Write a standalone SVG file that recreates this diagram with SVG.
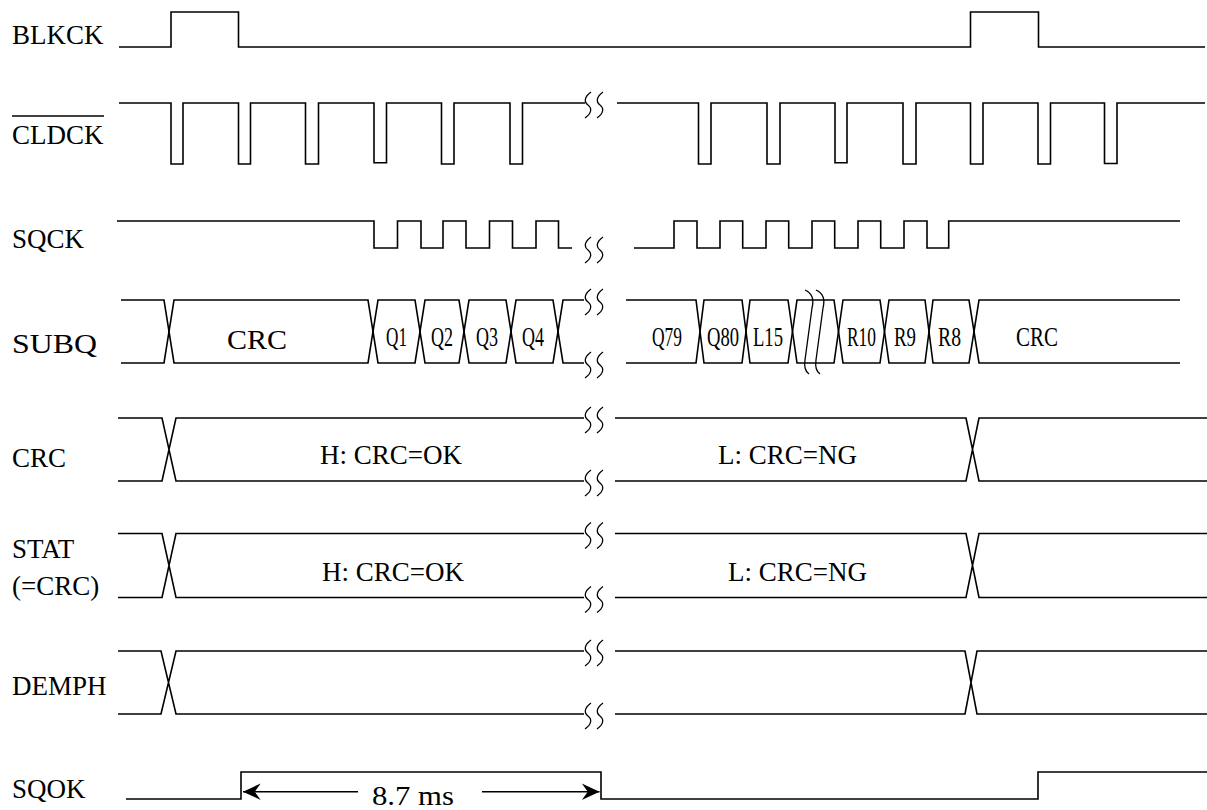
<svg xmlns="http://www.w3.org/2000/svg" xmlns:xlink="http://www.w3.org/1999/xlink" width="1207" height="810" viewBox="0 0 1207 810">
  <style>
    .w { fill: none; stroke: #000; stroke-width: 1.6; stroke-linejoin: miter; stroke-linecap: butt; }
    .br { fill: none; stroke: #000; stroke-width: 1.3; }
    .t { font-family: "Liberation Serif", "Times New Roman", serif; font-size: 27px; fill: #000; }
    .q { font-family: "Liberation Serif", "Times New Roman", serif; font-size: 27px; fill: #000; }
  </style>
  <defs>
    <path id="sq2" class="br" d="M3,-13 C-4,-8 -4,-3 0,0 C4,3 4,8 -3,13 M15,-13 C8,-8 8,-3 12,0 C16,3 16,8 9,13"/>
    <marker id="ah" markerUnits="userSpaceOnUse" markerWidth="20" markerHeight="20" refX="0" refY="0" viewBox="-16 -8 17 16" orient="auto-start-reverse" overflow="visible">
      <path d="M0,0 L-15,-7 L-10,0 L-15,7 Z" fill="#000"/>
    </marker>
  </defs>
  <rect width="1207" height="810" fill="#fff"/>

  <g id="blkck">
    <text class="t" x="12" y="43.5">BLKCK</text>
    <path class="w" d="M119,47 H171 V12 H238.5 V47 H970.5 V12 H1038.5 V47 H1205"/>
  </g>

  <g id="cldck">
    <text class="t" x="12" y="144">CLDCK</text>
    <line x1="12" y1="116" x2="104" y2="116" stroke="#000" stroke-width="1.5"/>
    <path class="w" d="M119,103 H171 V164 H183 V103 H238.5 V164 H250.5 V103 H305.5 V164 H318.5 V103 H374 V162.7 H386.5 V103 H441.5 V164 H454 V103 H510 V164 H522.5 V103 H585"/>
    <use xlink:href="#sq2" x="588" y="105"/>
    <path class="w" d="M617,103 H698.5 V164 H711 V103 H767 V164 H780 V103 H835 V162.7 H847 V103 H903 V164 H916 V103 H970.5 V164 H983 V103 H1038 V164 H1050.5 V103 H1104.5 V163.5 H1117 V103 H1205"/>
  </g>

  <g id="sqck">
    <text class="t" x="12" y="247.5">SQCK</text>
    <path class="w" d="M117,221 H374 V248 H397.5 V221 H421 V248 H443 V221 H466 V248 H489.5 V221 H512.5 V248 H536 V221 H558.5 V248 H572"/>
    <use xlink:href="#sq2" x="588" y="250"/>
    <path class="w" d="M634,248 H674 V221 H697 V248 H720 V221 H742.7 V248 H766 V221 H788.7 V248 H812 V221 H834.7 V248 H858 V221 H880.7 V248 H904 V221 H927 V248 H948.7 V221 H1180"/>
  </g>

  <g id="subq">
    <text class="t" x="12" y="353" textLength="85" lengthAdjust="spacingAndGlyphs">SUBQ</text>
    <path class="w" d="M121,300 H164 L174,363 H368 L378,300 H415 L425,363 H459 L469,300 H506 L516,363 H553 L563,300 H584"/>
    <path class="w" d="M121,363 H164 L174,300 H368 L378,363 H415 L425,300 H459 L469,363 H506 L516,300 H553 L563,363 H584"/>
    <use xlink:href="#sq2" x="588" y="302"/>
    <use xlink:href="#sq2" x="588" y="365"/>
    <path class="w" d="M626,300 H696 L704,363 H742 L750,300 H788 L797,363 H834 L843,300 H880 L889,363 H925 L933,300 H969 L979,363 H1180"/>
    <path class="w" d="M626,363 H696 L704,300 H742 L750,363 H788 L797,300 H834 L843,363 H880 L889,300 H925 L933,363 H969 L979,300 H1180"/>
    <path class="br" d="M805,290 C812,293 814,300 812,308 L805,360 C804,367 806,372 809,374 M816,290 C823,293 825,300 823,308 L816,360 C815,367 817,372 820,374"/>
    <text class="t" x="227" y="349" textLength="60" lengthAdjust="spacingAndGlyphs">CRC</text>
    <text class="q" x="386" y="346" textLength="21" lengthAdjust="spacingAndGlyphs">Q1</text>
    <text class="q" x="431" y="346" textLength="22" lengthAdjust="spacingAndGlyphs">Q2</text>
    <text class="q" x="476" y="346" textLength="22" lengthAdjust="spacingAndGlyphs">Q3</text>
    <text class="q" x="522" y="346" textLength="22" lengthAdjust="spacingAndGlyphs">Q4</text>
    <text class="q" x="652" y="346" textLength="30" lengthAdjust="spacingAndGlyphs">Q79</text>
    <text class="q" x="707" y="346" textLength="32" lengthAdjust="spacingAndGlyphs">Q80</text>
    <text class="q" x="753" y="346" textLength="30" lengthAdjust="spacingAndGlyphs">L15</text>
    <text class="q" x="847" y="346" textLength="29" lengthAdjust="spacingAndGlyphs">R10</text>
    <text class="q" x="894" y="346" textLength="22" lengthAdjust="spacingAndGlyphs">R9</text>
    <text class="q" x="938" y="346" textLength="23" lengthAdjust="spacingAndGlyphs">R8</text>
    <text class="q" x="1016" y="346" textLength="42" lengthAdjust="spacingAndGlyphs">CRC</text>
  </g>

  <g id="crc">
    <text class="t" x="12" y="466.5">CRC</text>
    <path class="w" d="M118,418 H162 L176,481 H584 M118,481 H162 L176,418 H584"/>
    <use xlink:href="#sq2" x="588" y="420"/>
    <use xlink:href="#sq2" x="588" y="483"/>
    <path class="w" d="M615,418 H966 L979,481 H1207 M615,481 H966 L979,418 H1207"/>
    <text class="t" x="320" y="463.5">H: CRC=OK</text>
    <text class="t" x="718" y="463.5">L: CRC=NG</text>
  </g>

  <g id="stat">
    <text class="t" x="12" y="558">STAT</text>
    <text class="t" x="12" y="595">(=CRC)</text>
    <path class="w" d="M118,533.5 H162 L176,597.5 H584 M118,597.5 H162 L176,533.5 H584"/>
    <use xlink:href="#sq2" x="588" y="535.5"/>
    <use xlink:href="#sq2" x="588" y="599.5"/>
    <path class="w" d="M615,533.5 H966 L979,597.5 H1207 M615,597.5 H966 L979,533.5 H1207"/>
    <text class="t" x="322" y="580.5">H: CRC=OK</text>
    <text class="t" x="728" y="580.5">L: CRC=NG</text>
  </g>

  <g id="demph">
    <text class="t" x="12" y="695">DEMPH</text>
    <path class="w" d="M118,651 H161 L176,714 H584 M118,714 H161 L176,651 H584"/>
    <use xlink:href="#sq2" x="588" y="653"/>
    <use xlink:href="#sq2" x="588" y="716"/>
    <path class="w" d="M615,651 H965 L977,714 H1207 M615,714 H965 L977,651 H1207"/>
  </g>

  <g id="sqok">
    <text class="t" x="12" y="798">SQOK</text>
    <path class="w" d="M126,799 H241 V772 H601 V799 H1038 V772 H1207"/>
    <text class="t" x="372" y="805" textLength="82" lengthAdjust="spacingAndGlyphs">8.7 ms</text>
  </g>

  <g id="connectors">
    <line class="w" x1="243" y1="791.7" x2="358" y2="791.7" marker-start="url(#ah)"/>
    <line class="w" x1="482" y1="791.7" x2="599.5" y2="791.7" marker-end="url(#ah)"/>
  </g>
</svg>
